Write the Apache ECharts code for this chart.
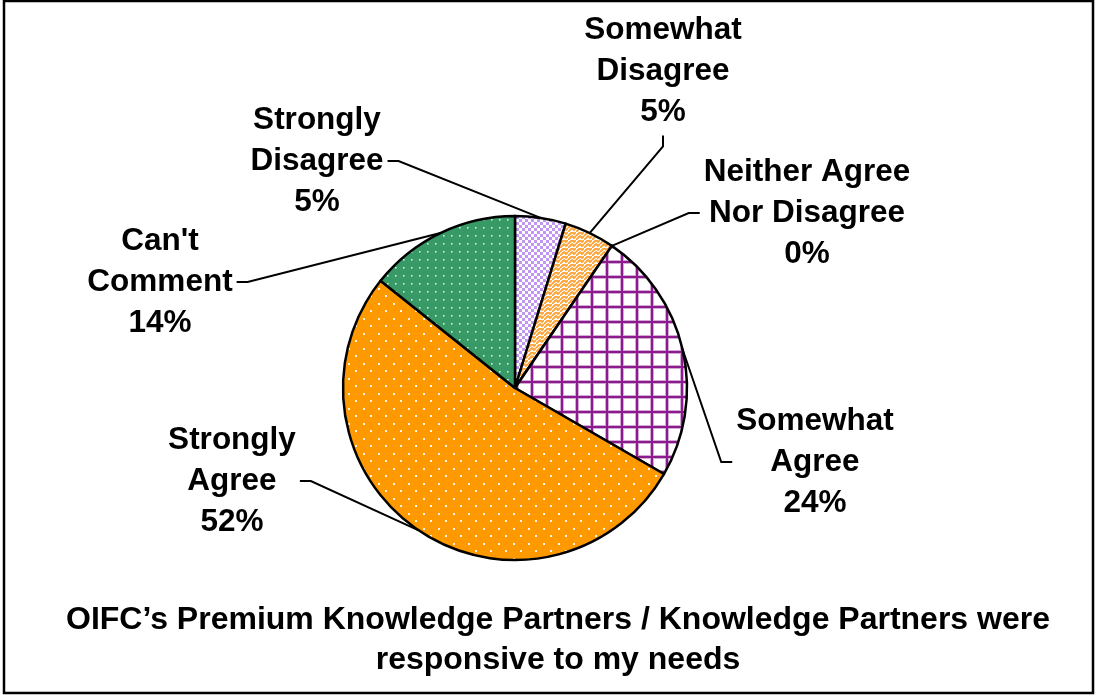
<!DOCTYPE html>
<html>
<head>
<meta charset="utf-8">
<script src="https://cdn.jsdelivr.net/npm/echarts@6/dist/echarts.min.js"></script>
<style>
  html, body { margin: 0; padding: 0; background: #fff; }
  #chart { width: 1098px; height: 696px; }
</style>
</head>
<body>
<div id="chart"></div>
<script>
// survey answers, clockwise from 12 o'clock
const categories = ['Strongly\nDisagree', 'Somewhat\nDisagree', 'Neither Agree\nNor Disagree', 'Somewhat\nAgree', 'Strongly\nAgree', "Can't\nComment"];
const responses = [1, 1, 0, 5, 11, 3];
const titleLines = ['OIFC\u2019s Premium Knowledge Partners / Knowledge Partners were', 'responsive to my needs'];

// where each label block sits (centre) and which side its leader line leaves from
const labelSpots = [
  [317, 161, 'right'],
  [663, 71, 'bottom'],
  [807, 213, 'left'],
  [815, 462, 'left'],
  [232, 481, 'right'],
  [160, 282, 'right']
];

const FONT = '"Liberation Sans", Arial, sans-serif';

function makePattern(w, h, bg, draw) {
  const c = document.createElement('canvas');
  c.width = w;
  c.height = h;
  const ctx = c.getContext('2d');
  ctx.fillStyle = bg;
  ctx.fillRect(0, 0, w, h);
  draw(ctx);
  return { image: c, repeat: 'repeat' };
}

const fills = [
  // lavender confetti squares
  makePattern(6, 6, '#ffffff', ctx => {
    ctx.fillStyle = '#c096f2';
    ctx.fillRect(0, 0, 3, 3);
    ctx.fillRect(3, 3, 3, 3);
  }),
  // orange zigzag weave
  makePattern(8, 8, '#ffffff', ctx => {
    ctx.strokeStyle = '#ffa030';
    ctx.lineWidth = 1.8;
    ctx.beginPath();
    ctx.moveTo(0, 8); ctx.lineTo(4, 4); ctx.lineTo(6, 6); ctx.lineTo(8, 4);
    ctx.moveTo(0, 4); ctx.lineTo(4, 0); ctx.lineTo(6, 2); ctx.lineTo(8, 0);
    ctx.stroke();
  }),
  makePattern(8, 8, '#ffffff', () => {}),
  // purple grid
  makePattern(15, 15, '#ffffff', ctx => {
    ctx.fillStyle = '#d3a9d6';
    ctx.fillRect(5, 0, 4, 15);
    ctx.fillRect(0, 5, 15, 4);
    ctx.fillStyle = '#8c1c8e';
    ctx.fillRect(6, 0, 2, 15);
    ctx.fillRect(0, 6, 15, 2);
  }),
  // orange with white dots
  makePattern(15, 15, '#ff9900', ctx => {
    ctx.fillStyle = '#fff6e8';
    ctx.fillRect(3, 3, 2, 2);
    ctx.fillRect(10, 10, 2, 2);
  }),
  // green with white dots
  makePattern(8, 8, '#369966', ctx => {
    ctx.fillStyle = '#d4ecdc';
    ctx.fillRect(3, 3, 1.6, 1.6);
  })
];

const chart = echarts.init(document.getElementById('chart'));

chart.setOption({
  animation: false,
  backgroundColor: '#ffffff',
  title: {
    text: titleLines.join('\n'),
    left: 558,
    textAlign: 'center',
    top: 600,
    padding: 0,
    textStyle: { fontFamily: FONT, fontWeight: 'bold', fontSize: 32, lineHeight: 40, color: '#000' }
  },
  graphic: [{
    type: 'rect',
    shape: { x: 4, y: 1, width: 1089, height: 692 },
    style: { fill: null, stroke: '#000', lineWidth: 2.5 },
    silent: true
  }],
  series: [{
    type: 'pie',
    center: [515, 388],
    radius: 172,
    startAngle: 90,
    clockwise: true,
    avoidLabelOverlap: false,
    itemStyle: { borderColor: '#000', borderWidth: 2.5 },
    label: {
      show: true,
      position: 'outside',
      fontFamily: FONT,
      fontWeight: 'bold',
      fontSize: 31.5,
      lineHeight: 41,
      color: '#000',
      align: 'center',
      formatter: p => p.name + '\n' + Math.round(p.percent) + '%'
    },
    labelLine: { show: true, smooth: false, lineStyle: { color: '#000', width: 2 } },
    labelLayout: function (params) {
      const spot = labelSpots[params.dataIndex];
      const rect = params.labelRect;
      const x = spot[0], y = spot[1];
      let a, b;
      if (spot[2] === 'right') {
        a = [x + rect.width / 2 + 4, y];
        b = [a[0] + 11, y];
      } else if (spot[2] === 'left') {
        a = [x - rect.width / 2 - 4, y];
        b = [a[0] - 11, y];
      } else {
        a = [x, y + rect.height / 2 + 3];
        b = [x, a[1] + 11];
      }
      const arc = params.labelLinePoints ? params.labelLinePoints[0] : b;
      return {
        x: x,
        y: y,
        align: 'center',
        verticalAlign: 'middle',
        labelLinePoints: [arc, b, a]
      };
    },
    data: categories.map((name, i) => ({
      name: name,
      value: responses[i],
      itemStyle: { color: fills[i] }
    }))
  }]
});
</script>
</body>
</html>
